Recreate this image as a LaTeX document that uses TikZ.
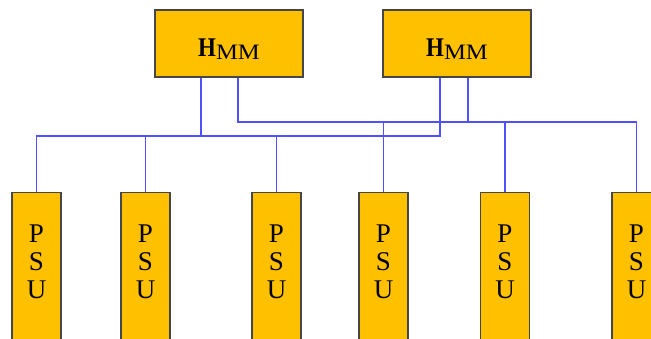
\documentclass[tikz,border=0pt]{standalone}
\usepackage{fontspec}
\setmainfont{Liberation Serif}
\usetikzlibrary{shadows}
\definecolor{boxfill}{RGB}{255,192,0}
\definecolor{boxline}{RGB}{70,70,70}
\definecolor{busblue}{RGB}{80,80,255}
\tikzset{
  unitbox/.style={draw=boxline, line width=1.2pt, fill=boxfill, inner sep=0pt,
    drop shadow={shadow xshift=0.8pt, shadow yshift=-0.8pt, opacity=0.35}},
  hmmbox/.style={unitbox, minimum width=148pt, minimum height=67pt,
    text height=30pt, text depth=5pt},
  psubox/.style={unitbox, minimum width=49pt, minimum height=190pt, anchor=north},
  psutext/.style={align=center, inner sep=0pt, font=\fontsize{27}{28}\selectfont},
  bus/.style={draw=busblue, line width=1.7pt}
}
\newcommand{\hmmlabel}{\fontsize{27}{30}\selectfont\scalebox{0.85}[1]{\bfseries H}\raisebox{-3pt}{\fontsize{22}{24}\selectfont\scalebox{1.12}[1]{MM}}}
\begin{document}
\begin{tikzpicture}[x=1pt,y=-1pt]
\clip (0,0) rectangle (651,338);
\fill[white] (0,0) rectangle (651,338);
\coordinate (ub) at (0,122);
\coordinate (lb) at (0,136);
% HMM boxes
\node[hmmbox] (h1) at (229,43.5) {\hmmlabel};
\node[hmmbox] (h2) at (457,43.5) {\hmmlabel};
% PSU boxes
\node[psubox] (p1) at (36.5,192) {};
\node[psubox] (p2) at (145.5,192) {};
\node[psubox] (p3) at (276.5,192) {};
\node[psubox] (p4) at (383.5,192) {};
\node[psubox] (p5) at (505,192) {};
\node[psubox] (p6) at (636.5,192) {};
\foreach \i in {1,...,6}{
  \node[psutext] (t\i) at ([yshift=-70pt]p\i.north) {P\\S\\U};
}
% lower bus: h1 left leg, h2 left leg, PSU 1-3
\draw[bus] ([xshift=-17pt]h2.south) |- (lb -| p1.north) -- (p1.north);
\draw[bus] ([xshift=-28pt]h1.south) -- ([xshift=-28pt]h1.south |- lb);
\draw[bus] (lb -| p2.north) -- (p2.north);
\draw[bus] (lb -| p3.north) -- (p3.north);
% upper bus: h1 right leg, h2 right leg, PSU 4-6
\draw[bus] ([xshift=9pt]h1.south) |- (ub -| p6.north) -- (p6.north);
\draw[bus] ([xshift=11pt]h2.south) -- ([xshift=11pt]h2.south |- ub);
\draw[bus] (ub -| p4.north) -- (p4.north);
\draw[bus] (ub -| p5.north) -- (p5.north);
\end{tikzpicture}
\end{document}
